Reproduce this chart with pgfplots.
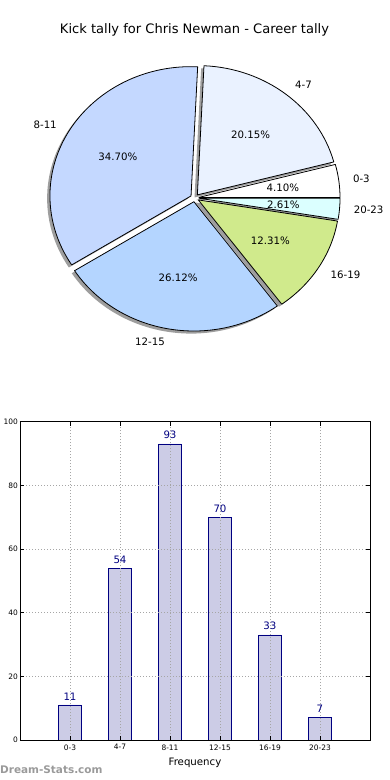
\documentclass[border=0pt]{standalone}
\usepackage{pgfplots}
\pgfplotsset{compat=1.18}
\usepackage{pgfplotstable}
\usepackage{fontspec}
\setmainfont{DejaVu Sans}

\definecolor{c0}{HTML}{FFFFFF}
\definecolor{c1}{HTML}{EAF2FF}
\definecolor{c2}{HTML}{C4D8FF}
\definecolor{c3}{HTML}{B4D5FF}
\definecolor{c4}{HTML}{D0EA8C}
\definecolor{c5}{HTML}{DBFFFF}
\definecolor{barfill}{HTML}{CCCCE6}
\definecolor{baredge}{HTML}{000080}
\definecolor{wmark}{HTML}{9A9A9A}

\pgfplotstableread{
idx label count
0 0-3 11
1 4-7 54
2 8-11 93
3 12-15 70
4 16-19 33
5 20-23 7
}\kickdata

\newcommand\pv[2]{\csname pie#1#2\endcsname}
\def\explode{0.03}
\def\RX{141.1bp}
\def\RY{129.3bp}

\begin{document}
\begin{tikzpicture}
\path[use as bounding box] (0bp,0bp) rectangle (390bp,-780bp);
% ---- compute pie geometry from the data table
\gdef\pietotal{0}%
\pgfplotsforeachungrouped \i in {0,...,5}{%
  \pgfplotstablegetelem{\i}{count}\of\kickdata
  \pgfmathsetmacro\pietotal{\pietotal+\pgfplotsretval}%
}%
\def\pieacc{0}%
\pgfplotsforeachungrouped \i in {0,...,5}{%
  \pgfplotstablegetelem{\i}{count}\of\kickdata
  \let\piecnt\pgfplotsretval
  \pgfmathsetmacro\pieaSt{360*(\pieacc/\pietotal)}%
  \pgfmathsetmacro\pieacc{\pieacc+\piecnt}%
  \pgfmathsetmacro\pieaEn{360*(\pieacc/\pietotal)}%
  \pgfmathsetmacro\pieaMi{(\pieaSt+\pieaEn)/2}%
  \pgfmathsetmacro\piepc{100*(\piecnt/\pietotal)}%
  \pgfmathsetmacro\piesxx{\explode*cos(\pieaMi)}%
  \pgfmathsetmacro\piesyy{\explode*sin(\pieaMi)}%
  \pgfmathsetmacro\piebxx{\piesxx+cos(\pieaSt)}%
  \pgfmathsetmacro\piebyy{\piesyy+sin(\pieaSt)}%
  \pgfmathsetmacro\piepxx{\piesxx+0.6*cos(\pieaMi)}%
  \pgfmathsetmacro\piepyy{\piesyy+0.6*sin(\pieaMi)}%
  \pgfmathsetmacro\pielxx{\piesxx+1.1*cos(\pieaMi)}%
  \pgfmathsetmacro\pielyy{\piesyy+1.1*sin(\pieaMi)}%
  \pgfmathparse{cos(\pieaMi)>0 ? "west" : "east"}\let\pieancc\pgfmathresult
  \pgfplotstablegetelem{\i}{label}\of\kickdata
  \let\pielabb\pgfplotsretval
  \expandafter\xdef\csname pieaS\i\endcsname{\pieaSt}%
  \expandafter\xdef\csname pieaE\i\endcsname{\pieaEn}%
  \expandafter\xdef\csname piesx\i\endcsname{\piesxx}%
  \expandafter\xdef\csname piesy\i\endcsname{\piesyy}%
  \expandafter\xdef\csname piebx\i\endcsname{\piebxx}%
  \expandafter\xdef\csname pieby\i\endcsname{\piebyy}%
  \expandafter\xdef\csname piepx\i\endcsname{\piepxx}%
  \expandafter\xdef\csname piepy\i\endcsname{\piepyy}%
  \expandafter\xdef\csname pielx\i\endcsname{\pielxx}%
  \expandafter\xdef\csname piely\i\endcsname{\pielyy}%
  \expandafter\xdef\csname piepct\i\endcsname{\piepc}%
  \expandafter\xdef\csname pieanc\i\endcsname{\pieancc}%
  \expandafter\xdef\csname pielab\i\endcsname{\pielabb}%
}%
\node[font=\fontsize{13.1}{15}\selectfont] at (194.5bp,-30bp) {Kick tally for Chris Newman - Career tally};
% ---- pie
\begin{axis}[at={(194.7bp,-197.9bp)}, anchor=center, scale only axis,
  x=\RX, y=\RY, xmin=-1.5, xmax=1.5, ymin=-1.5, ymax=1.5,
  hide axis, clip=false]
\pgfplotsinvokeforeach{0,...,5}{
  \fill[black!38, shift={(axis direction cs:-0.02,-0.02)}]
    (axis cs:{\pv{sx}{#1}},{\pv{sy}{#1}}) -- (axis cs:{\pv{bx}{#1}},{\pv{by}{#1}})
    arc[start angle=\pv{aS}{#1}, end angle=\pv{aE}{#1}, x radius=\RX, y radius=\RY] -- cycle;
}
\pgfplotsinvokeforeach{0,...,5}{
  \filldraw[fill=c#1, draw=black, line width=0.8bp, line join=round]
    (axis cs:{\pv{sx}{#1}},{\pv{sy}{#1}}) -- (axis cs:{\pv{bx}{#1}},{\pv{by}{#1}})
    arc[start angle=\pv{aS}{#1}, end angle=\pv{aE}{#1}, x radius=\RX, y radius=\RY] -- cycle;
}
\pgfplotsinvokeforeach{0,...,5}{
  \node[font=\fontsize{10.25}{12}\selectfont, inner sep=0pt]
    at (axis cs:{\pv{px}{#1}},{\pv{py}{#1}})
    {\pgfmathprintnumber[fixed,fixed zerofill,precision=2,assume math mode=true]{\pv{pct}{#1}}\%};
  \node[font=\fontsize{10.25}{12}\selectfont, inner sep=0pt, anchor=\pv{anc}{#1}]
    at (axis cs:{\pv{lx}{#1}},{\pv{ly}{#1}}) {\pv{lab}{#1}};
}
\end{axis}
% ---- bar chart
\begin{axis}[at={(20bp,-740bp)}, anchor=south west, scale only axis,
  width=350bp, height=318.3bp,
  xmin=-1, xmax=6, ymin=0, ymax=100,
  xtick={0,...,5}, xticklabels from table={\kickdata}{label},
  ytick={0,20,...,100},
  /pgf/number format/assume math mode=true,
  tick label style={font=\fontsize{7.5}{8}\selectfont},
  yticklabel style={xshift=1.5bp},
  xticklabel style={yshift=-1bp},
  tick align=inside, major tick length=4bp,
  tick style={black, line width=0.6bp},
  axis line style={line width=0.8bp},
  grid=major, grid style={black!35, line width=0.6bp, dash pattern=on 1bp off 2bp},
  axis on top,
  xlabel={Frequency}, xlabel style={font=\fontsize{10.25}{12}\selectfont, yshift=-1bp},
  nodes near coords={\pgfmathprintnumber{\pgfplotspointmeta}},
  nodes near coords style={font=\fontsize{10.25}{12}\selectfont, text=baredge, inner sep=0pt, yshift=4.5bp},
  ]
\addplot[ybar, bar width=0.45, fill=barfill, draw=baredge, line width=0.8bp]
  table[x=idx, y=count]{\kickdata};
\end{axis}
\node[anchor=west, inner sep=0pt, font=\bfseries\fontsize{10.5}{12}\selectfont, text=wmark] at (0bp,-770bp) {Dream-Stats.com};
\end{tikzpicture}
\end{document}
